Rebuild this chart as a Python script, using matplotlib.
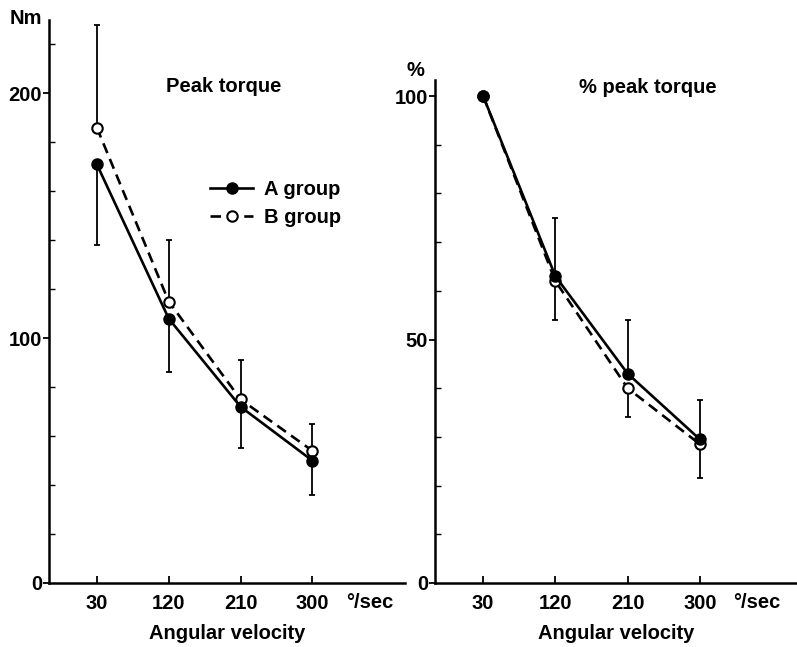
import numpy as np
import matplotlib
matplotlib.use("Agg")
import matplotlib.pyplot as plt
from matplotlib.lines import Line2D
from matplotlib.ticker import MultipleLocator

plt.rcParams['font.family'] = ['Liberation Sans', 'DejaVu Sans']
plt.rcParams['font.weight'] = 'bold'
plt.rcParams['axes.labelweight'] = 'bold'

# angular velocity (deg/sec)
speeds = [30, 120, 210, 300]
speed_labels = ['30', '120', '210', '300']

# peak torque (Nm)
torque_a = [171, 108, 72, 50]
torque_b = [186, 115, 75, 54]
torque_a_err_down = [33, 22, 17, 14]
torque_b_err_up = [42, 25, 16, 11]

# % of peak torque at 30 deg/sec
pct_a = [100, 63, 43, 29.5]
pct_b = [100, 62, 40, 28.5]
pct_a_err_up = [0, 12, 11, 8]
pct_b_err_down = [0, 8, 6, 7]

zeros = [0, 0, 0, 0]
FS = 14.5

fig = plt.figure(figsize=(7.97, 6.47), dpi=100)
ax1 = fig.add_axes([49 / 797, 1 - 583 / 647, (405 - 49) / 797, (583 - 20) / 647])
ax2 = fig.add_axes([435 / 797, 1 - 583 / 647, (797 - 435) / 797, (583 - 80) / 647])


def draw_panel(ax, ya, yb, err_a, err_b, ymax, major, minor, xmax):
    # one-sided error bars
    ax.errorbar(speeds, yb, yerr=err_b, fmt='none', ecolor='black', elinewidth=1.3,
                capsize=2.5, capthick=1.3)
    ax.errorbar(speeds, ya, yerr=err_a, fmt='none', ecolor='black', elinewidth=1.3,
                capsize=2.5, capthick=1.3)
    ax.plot(speeds, yb, color='black', lw=1.9, ls=(0, (4, 2.4)), marker='o', ms=7.5,
            mfc='white', mec='black', mew=1.5, zorder=3)
    ax.plot(speeds, ya, color='black', lw=1.9, marker='o', ms=8,
            mfc='black', mec='black', zorder=4)

    ax.set_xlim(-30, xmax)
    ax.set_ylim(0, ymax)
    for s in ['top', 'right']:
        ax.spines[s].set_visible(False)
    for s in ['left', 'bottom']:
        ax.spines[s].set_linewidth(1.8)
    ax.set_xticks(speeds)
    ax.set_xticklabels(speed_labels)
    ax.tick_params(axis='x', direction='in', length=5, width=1.3, pad=8, labelsize=FS)
    ax.yaxis.set_major_locator(MultipleLocator(major))
    ax.yaxis.set_minor_locator(MultipleLocator(minor))
    ax.tick_params(axis='y', which='major', direction='out', length=4, width=1.3,
                   pad=1, labelsize=FS)
    ax.tick_params(axis='y', which='minor', direction='in', length=4, width=1.0)
    ax.annotate('°/sec', xy=(342, 0), xycoords=('data', 'axes fraction'),
                xytext=(0, -7), textcoords='offset points', ha='left', va='top',
                fontsize=FS)
    ax.set_xlabel('Angular velocity', fontsize=FS, labelpad=8)


draw_panel(ax1, torque_a, torque_b, [torque_a_err_down, zeros], [zeros, torque_b_err_up],
           230, 100, 20, 416)
draw_panel(ax2, pct_a, pct_b, [zeros, pct_a_err_up], [pct_b_err_down, zeros],
           103.3, 50, 10, 421)

ax1.text(117, 203, 'Peak torque', fontsize=FS, va='center', ha='left')
ax2.text(150, 101.8, '% peak torque', fontsize=FS, va='center', ha='left')

handles = [
    Line2D([], [], color='black', lw=1.9, marker='o', ms=8, mfc='black'),
    Line2D([], [], color='black', lw=1.9, ls=(0, (4, 2.4)), marker='o', ms=7.5,
           mfc='white', mew=1.5),
]
ax1.legend(handles, ['A group', 'B group'], loc='upper left', bbox_to_anchor=(0.425, 0.733),
           frameon=False, fontsize=FS, handlelength=2.1, handletextpad=0.55,
           borderpad=0, labelspacing=0.45)

fig.text(10 / 797, 1 - 18 / 647, 'Nm', fontsize=FS, va='center', ha='left')
fig.text(415 / 797, 1 - 70 / 647, '%', fontsize=FS, va='center', ha='center')

fig.savefig('out.png', dpi=100, facecolor='white')
